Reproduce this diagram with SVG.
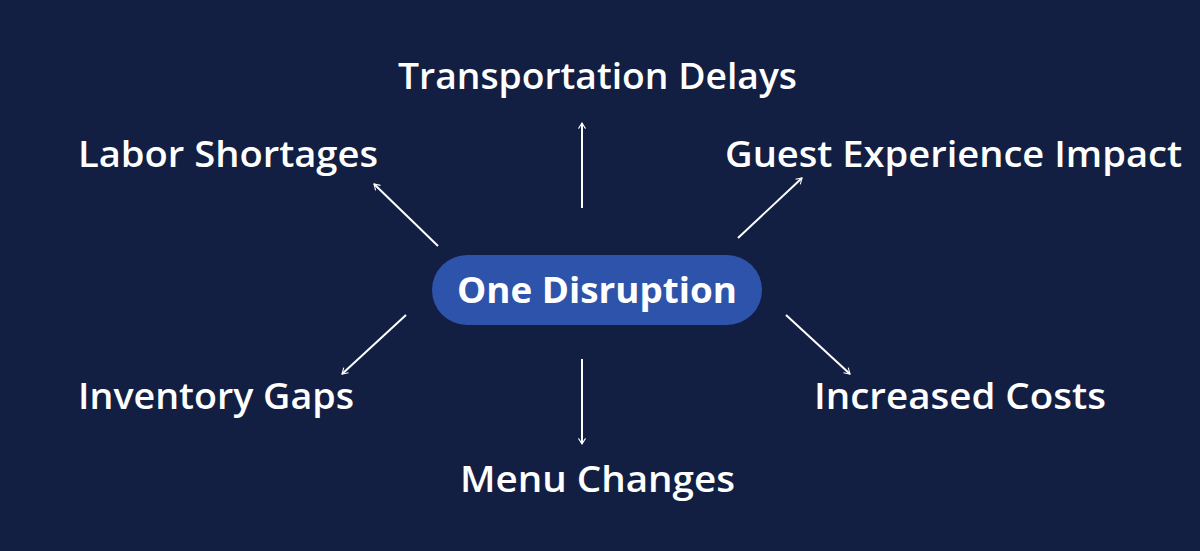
<svg xmlns="http://www.w3.org/2000/svg" width="1200" height="551" viewBox="0 0 1200 551">
<style>
.l{font-family:"Open Sans","Liberation Sans",sans-serif;font-size:36px;fill:#fff;font-weight:600}
.c{font-family:"Open Sans","Liberation Sans",sans-serif;font-size:36px;fill:#fff;font-weight:700}
.a{stroke:#fff;stroke-width:2;fill:none;marker-end:url(#m)}
</style>
<defs><marker id="m" viewBox="0 0 10 10" refX="9" refY="5" markerWidth="7" markerHeight="7" orient="auto" markerUnits="userSpaceOnUse" overflow="visible"><path d="M1,0 L9,5 L1,10" fill="none" stroke="#fff" stroke-width="1.5"/></marker></defs>
<rect width="1200" height="551" fill="#131f42"/>
<g id="connectors">
<line class="a" x1="582" y1="208" x2="582" y2="123"/>
<line class="a" x1="438" y1="246" x2="374" y2="184"/>
<line class="a" x1="738" y1="238" x2="802" y2="178"/>
<line class="a" x1="406" y1="315" x2="342" y2="374"/>
<line class="a" x1="786" y1="315" x2="850" y2="374"/>
<line class="a" x1="582" y1="359" x2="582" y2="444"/>
</g>
<g id="center"><rect x="432" y="255" width="330" height="70" rx="35" fill="#2d53aa"/><text class="c" x="597" y="303" text-anchor="middle" textLength="280" lengthAdjust="spacingAndGlyphs">One Disruption</text></g>
<g id="n1"><text class="l" x="398" y="89" textLength="399" lengthAdjust="spacingAndGlyphs">Transportation Delays</text></g>
<g id="n2"><text class="l" x="78" y="167" textLength="300" lengthAdjust="spacingAndGlyphs">Labor Shortages</text></g>
<g id="n3"><text class="l" x="725" y="167" textLength="457" lengthAdjust="spacingAndGlyphs">Guest Experience Impact</text></g>
<g id="n4"><text class="l" x="78" y="409" textLength="276" lengthAdjust="spacingAndGlyphs">Inventory Gaps</text></g>
<g id="n5"><text class="l" x="814" y="409" textLength="292" lengthAdjust="spacingAndGlyphs">Increased Costs</text></g>
<g id="n6"><text class="l" x="460" y="492" textLength="275" lengthAdjust="spacingAndGlyphs">Menu Changes</text></g>
</svg>
